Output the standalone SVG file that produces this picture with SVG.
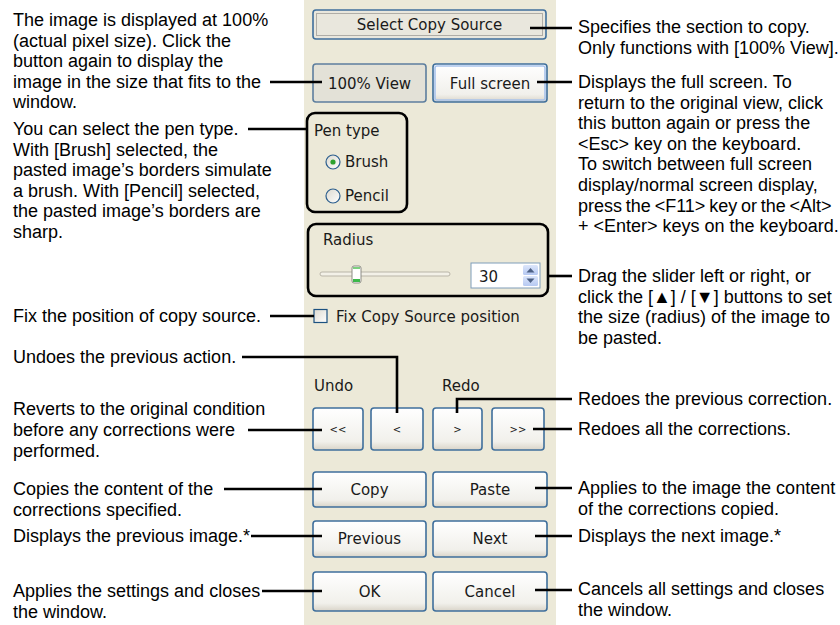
<svg xmlns="http://www.w3.org/2000/svg" width="840" height="625" viewBox="0 0 840 625">
<defs>
<linearGradient id="btn" x1="0" y1="0" x2="0" y2="1">
<stop offset="0" stop-color="#FFFFFF"/>
<stop offset="0.8" stop-color="#F1F0EB"/>
<stop offset="1" stop-color="#D9D4C8"/>
</linearGradient>
<linearGradient id="rad" x1="0" y1="0" x2="1" y2="1">
<stop offset="0" stop-color="#DCD9CF"/>
<stop offset="1" stop-color="#FFFFFF"/>
</linearGradient>
<linearGradient id="spin" x1="0" y1="0" x2="0" y2="1">
<stop offset="0" stop-color="#DCE6FB"/>
<stop offset="1" stop-color="#B6C9F2"/>
</linearGradient>
</defs>
<style>
.t{font-family:"Liberation Sans",Arial,sans-serif;font-size:18px;fill:#000}
.u{font-family:"DejaVu Sans",Tahoma,sans-serif;font-size:15px;fill:#1a1a1a}
.um{text-anchor:middle}
.sm{font-family:"DejaVu Sans",Tahoma,sans-serif;font-size:10px;fill:#1a1a1a;text-anchor:middle}
.b{fill:url(#btn);stroke:#3F6F9C;stroke-width:1.6}
.hl{fill:none;stroke:#000;stroke-width:2.6}
.c{fill:none;stroke:#000;stroke-width:2.6}
</style>
<rect x="0" y="0" width="840" height="625" fill="#FFFFFF"/>
<rect x="304" y="0" width="252" height="625" fill="#ECE9D8"/>

<g id="select-copy-source">
<rect x="313" y="10" width="233" height="29" rx="3" fill="#E9E7DD" stroke="#3F6F9C" stroke-width="1.6"/>
<rect x="316.5" y="13.5" width="226" height="22" fill="none" stroke="#555" stroke-width="0.8" stroke-dasharray="1,1"/>
<text class="u um" x="429.5" y="30">Select Copy Source</text>
</g>
<g id="view-100">
<rect x="313" y="64" width="113" height="38" rx="3" fill="#E3E1D7" stroke="#5D7E9E" stroke-width="1.6"/>
<text class="u um" x="369.5" y="89">100% View</text>
</g>
<g id="full-screen">
<rect x="433" y="64" width="114" height="38" rx="3" class="b"/>
<rect x="435" y="66" width="110" height="34" rx="2" fill="none" stroke="#A9C4EC" stroke-width="1.6"/>
<text class="u um" x="490" y="89">Full screen</text>
</g>
<g id="pen-type">
<text class="u" x="314" y="136">Pen type</text>
<circle cx="333" cy="162" r="7" fill="url(#rad)" stroke="#2C5E8E" stroke-width="1.2"/>
<circle cx="333" cy="162" r="2.6" fill="#2EA22E"/>
<text class="u" x="345" y="167">Brush</text>
<circle cx="333" cy="196" r="7" fill="url(#rad)" stroke="#2C5E8E" stroke-width="1.2"/>
<text class="u" x="345" y="201">Pencil</text>
<rect x="307" y="113" width="100" height="99" rx="8" class="hl"/>
</g>
<g id="radius">
<text class="u" x="323" y="245">Radius</text>
<rect x="320" y="272" width="130" height="4" rx="2" fill="#F3F1E8" stroke="#B9B5A8" stroke-width="1"/>
<rect x="352" y="266" width="9" height="17" rx="2" fill="#FFFFFF" stroke="#8C8C84" stroke-width="1"/>
<rect x="353" y="279" width="7" height="3" fill="#3CB84A"/>
<rect x="353" y="267" width="7" height="2" fill="#7DD07F"/>
<rect x="471" y="263" width="69" height="25" fill="#FFFFFF" stroke="#7F9DB9" stroke-width="1"/>
<text class="u" x="479" y="282">30</text>
<rect x="523" y="265" width="15" height="10" rx="1.5" fill="url(#spin)"/>
<rect x="523" y="276" width="15" height="10" rx="1.5" fill="url(#spin)"/>
<polygon points="526.5,272.5 530.5,268 534.5,272.5" fill="#4D6185"/>
<polygon points="526.5,278.5 530.5,283 534.5,278.5" fill="#4D6185"/>
<rect x="308" y="224" width="240" height="72" rx="8" class="hl"/>
</g>
<g id="fix-copy-source">
<rect x="314" y="309.5" width="13" height="13" fill="url(#rad)" stroke="#1C5180" stroke-width="1.2"/>
<text class="u" x="336" y="322">Fix Copy Source position</text>
</g>
<g id="undo-redo-labels">
<text class="u" x="314" y="391">Undo</text>
<text class="u" x="442" y="391">Redo</text>
</g>
<g id="undo-all"><rect x="313" y="408" width="50" height="42" rx="3" class="b"/><text class="sm" x="338" y="433">&lt;&lt;</text></g>
<g id="undo"><rect x="371" y="408" width="52" height="42" rx="3" class="b"/><text class="sm" x="397" y="433">&lt;</text></g>
<g id="redo"><rect x="433" y="408" width="49" height="42" rx="3" class="b"/><text class="sm" x="457.5" y="433">&gt;</text></g>
<g id="redo-all"><rect x="492" y="408" width="52" height="42" rx="3" class="b"/><text class="sm" x="518" y="433">&gt;&gt;</text></g>
<g id="copy"><rect x="313" y="472" width="113" height="35" rx="3" class="b"/><text class="u um" x="369.5" y="495">Copy</text></g>
<g id="paste"><rect x="433" y="472" width="114" height="35" rx="3" class="b"/><text class="u um" x="490" y="495">Paste</text></g>
<g id="previous"><rect x="313" y="521" width="113" height="36" rx="3" class="b"/><text class="u um" x="369.5" y="544">Previous</text></g>
<g id="next"><rect x="433" y="521" width="114" height="36" rx="3" class="b"/><text class="u um" x="490" y="544">Next</text></g>
<g id="ok"><rect x="313" y="572" width="113" height="39" rx="3" class="b"/><text class="u um" x="369.5" y="597">OK</text></g>
<g id="cancel"><rect x="433" y="572" width="114" height="39" rx="3" class="b"/><text class="u um" x="490" y="597">Cancel</text></g>

<g id="connectors">
<path class="c" d="M270 82H322"/>
<path class="c" d="M248 129H307"/>
<path class="c" d="M270 316H314"/>
<path class="c" d="M242 357H397V413"/>
<path class="c" d="M248 430H322"/>
<path class="c" d="M224 489H322"/>
<path class="c" d="M251 536H322"/>
<path class="c" d="M262 591H322"/>
<path class="c" d="M530 28H572"/>
<path class="c" d="M537 82H572"/>
<path class="c" d="M548 276H572"/>
<path class="c" d="M457 413V399H572"/>
<path class="c" d="M533 429H572"/>
<path class="c" d="M535 488H572"/>
<path class="c" d="M535 536H572"/>
<path class="c" d="M535 590H572"/>
</g>

<g id="notes-left">
<text class="t" x="13" y="26">The image is displayed at 100%</text>
<text class="t" x="13" y="46.6">(actual pixel size). Click the</text>
<text class="t" x="13" y="67.2">button again to display the</text>
<text class="t" x="13" y="87.8">image in the size that fits to the</text>
<text class="t" x="13" y="108.4">window.</text>
<text class="t" x="13" y="135">You can select the pen type.</text>
<text class="t" x="13" y="155.6">With [Brush] selected, the</text>
<text class="t" x="13" y="176.2">pasted image’s borders simulate</text>
<text class="t" x="13" y="196.8">a brush. With [Pencil] selected,</text>
<text class="t" x="13" y="217.4">the pasted image’s borders are</text>
<text class="t" x="13" y="238">sharp.</text>
<text class="t" x="13" y="322">Fix the position of copy source.</text>
<text class="t" x="13" y="363">Undoes the previous action.</text>
<text class="t" x="13" y="415.4">Reverts to the original condition</text>
<text class="t" x="13" y="436">before any corrections were</text>
<text class="t" x="13" y="456.6">performed.</text>
<text class="t" x="13" y="495">Copies the content of the</text>
<text class="t" x="13" y="515.6">corrections specified.</text>
<text class="t" x="13" y="542">Displays the previous image.*</text>
<text class="t" x="13" y="597">Applies the settings and closes</text>
<text class="t" x="13" y="617.6">the window.</text>
</g>
<g id="notes-right">
<text class="t" x="578" y="33">Specifies the section to copy.</text>
<text class="t" x="578" y="53.6">Only functions with [100% View].</text>
<text class="t" x="578" y="88">Displays the full screen. To</text>
<text class="t" x="578" y="108.6">return to the original view, click</text>
<text class="t" x="578" y="129.2">this button again or press the</text>
<text class="t" x="578" y="149.8">&lt;Esc&gt; key on the keyboard.</text>
<text class="t" x="578" y="170.4">To switch between full screen</text>
<text class="t" x="578" y="191">display/normal screen display,</text>
<text class="t" x="578" y="211.6" word-spacing="-1.2">press the &lt;F11&gt; key or the &lt;Alt&gt;</text>
<text class="t" x="578" y="232.2">+ &lt;Enter&gt; keys on the keyboard.</text>
<text class="t" x="578" y="282">Drag the slider left or right, or</text>
<text class="t" x="578" y="302.6">click the [▲] / [▼] buttons to set</text>
<text class="t" x="578" y="323.2">the size (radius) of the image to</text>
<text class="t" x="578" y="343.8">be pasted.</text>
<text class="t" x="578" y="405">Redoes the previous correction.</text>
<text class="t" x="578" y="435">Redoes all the corrections.</text>
<text class="t" x="578" y="494">Applies to the image the content</text>
<text class="t" x="578" y="514.6">of the corrections copied.</text>
<text class="t" x="578" y="542">Displays the next image.*</text>
<text class="t" x="578" y="595">Cancels all settings and closes</text>
<text class="t" x="578" y="615.6">the window.</text>
</g>
</svg>
